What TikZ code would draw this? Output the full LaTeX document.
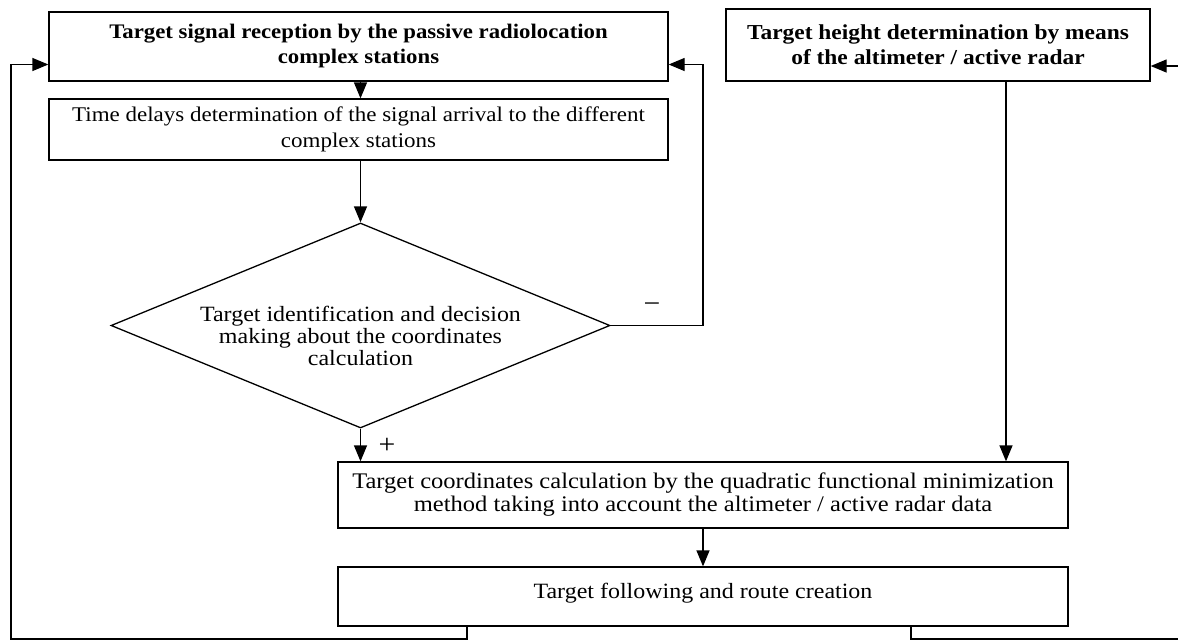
\documentclass[tikz,border=0pt]{standalone}
\usepackage{fontspec}
\setmainfont[FakeStretch=1.1]{Liberation Serif}
\usetikzlibrary{arrows.meta,shapes.geometric}
\begin{document}
\begin{tikzpicture}[x=1pt,y=-1pt,
  ln/.style={line width=1.3pt,draw=black},
  box/.style={ln,rectangle,inner sep=0pt,align=center,font=\fontsize{20.9}{26}\selectfont},
  boldbox/.style={box,font=\fontsize{20.7}{25}\selectfont\bfseries},
  txt/.style={inner sep=0pt,align=center,font=\fontsize{21.8}{22}\selectfont},
  arr/.style={ln,-{Triangle[length=16pt,width=13pt]}},
  sign/.style={inner sep=0pt,font=\fontsize{27}{27}\selectfont}]
\useasboundingbox (0,0) rectangle (1178,641);
% boxes
\node[boldbox,minimum width=619pt,minimum height=69pt] (A) at (358.5,46.5)
  {Target signal reception by the passive radiolocation\\complex stations};
\node[box,minimum width=619pt,minimum height=61pt] (B) at (358.5,129.5)
  {Time delays determination of the signal arrival to the different\\complex stations};
\node[ln,diamond,inner sep=0pt,minimum width=499pt,minimum height=205pt,aspect=2.43] (Dm) at (360.5,325.5) {};
\node[txt] (DmT) at (360.5,336)
  {Target identification and decision\\making about the coordinates\\calculation};
\node[boldbox,minimum width=424pt,minimum height=72pt,font=\fontsize{21.3}{25}\selectfont\bfseries] (R) at (938,45)
  {Target height determination by means\\of the altimeter / active radar};
\node[box,minimum width=730pt,minimum height=66pt,font=\fontsize{22.3}{23}\selectfont] (C) at (703,495)
  {Target coordinates calculation by the quadratic functional minimization\\method taking into account the altimeter / active radar data};
\node[box,minimum width=730pt,minimum height=59pt,font=\fontsize{21.8}{24}\selectfont] (D) at (703,596.5)
  {Target following and route creation\rule[-12pt]{0pt}{0pt}};
% helper coordinates
\coordinate (M1) at (703,325.5);
\coordinate (Rx) at (1006,0);
\coordinate (L1) at (467,639);
\coordinate (L2) at (11,639);
\coordinate (Q1) at (911,639);
\coordinate (Q2) at (1195,639);
% connectors
\draw[arr] (A.south -| Dm.north) -- (B.north -| Dm.north);
\draw[arr] (B.south -| Dm.north) -- (Dm.north);
\draw[arr] (Dm.east) -- (M1) |- ([yshift=-18pt]A.east);
\draw[arr] (Dm.south) -- (C.north -| Dm.south);
\draw[arr] (R.south -| Rx) -- (C.north -| Rx);
\draw[arr] (C.south) -- (D.north);
\draw[arr] (D.south -| L1) -- (L1) -- (L2) |- ([yshift=-18pt]A.west);
\draw[arr] (D.south -| Q1) -- (Q1) -- (Q2) |- ([yshift=-21pt]R.east);
% signs
\node[sign] (minus) at (652,308) {−};
\node[sign] (plus) at (387,446) {+};
\end{tikzpicture}
\end{document}
